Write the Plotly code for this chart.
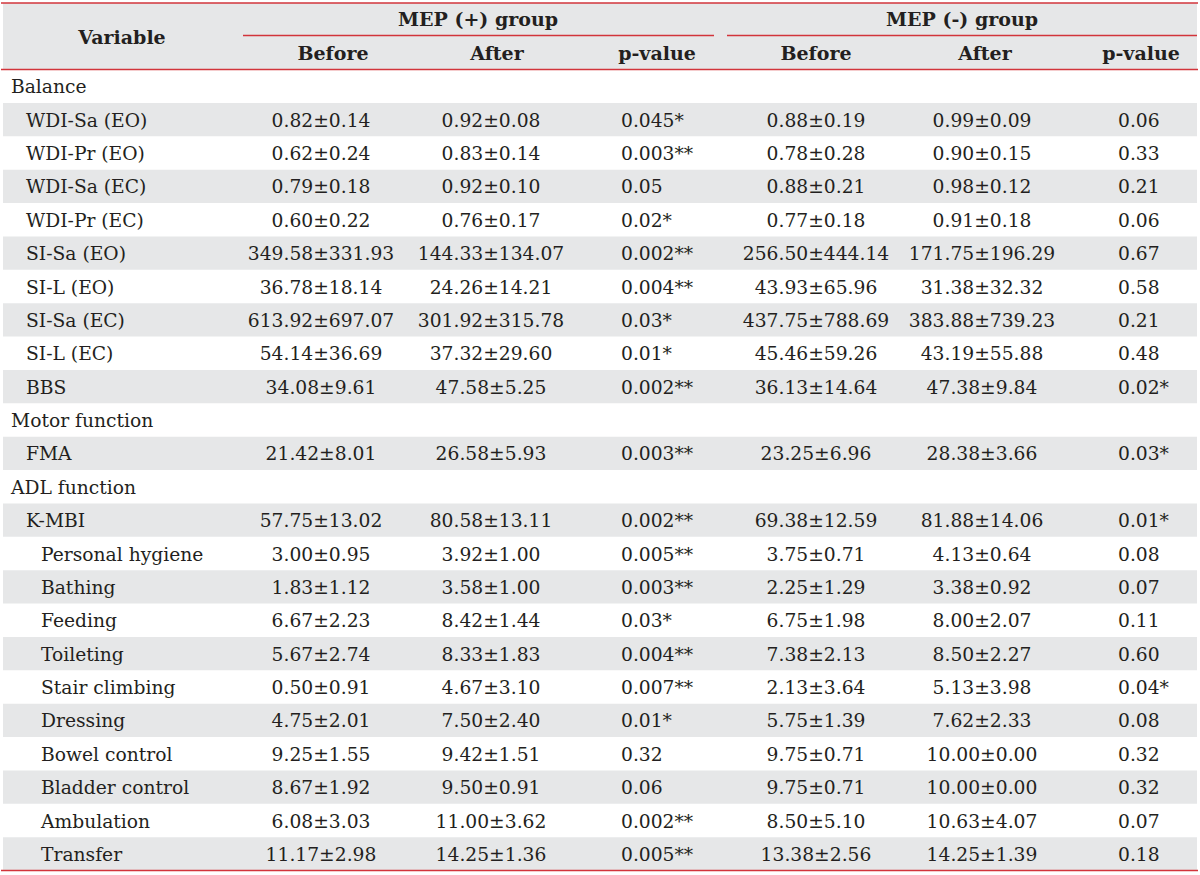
import plotly.graph_objects as go

# ---------------- data ----------------
variables = ["Balance", "WDI-Sa (EO)", "WDI-Pr (EO)", "WDI-Sa (EC)", "WDI-Pr (EC)",
             "SI-Sa (EO)", "SI-L (EO)", "SI-Sa (EC)", "SI-L (EC)", "BBS",
             "Motor function", "FMA",
             "ADL function", "K-MBI", "Personal hygiene", "Bathing", "Feeding",
             "Toileting", "Stair climbing", "Dressing", "Bowel control",
             "Bladder control", "Ambulation", "Transfer"]
indent_level = [0, 1, 1, 1, 1, 1, 1, 1, 1, 1, 0, 1, 0, 1, 2, 2, 2, 2, 2, 2, 2, 2, 2, 2]

pos_before_mean = [None, 0.82, 0.62, 0.79, 0.60, 349.58, 36.78, 613.92, 54.14, 34.08, None, 21.42,
                   None, 57.75, 3.00, 1.83, 6.67, 5.67, 0.50, 4.75, 9.25, 8.67, 6.08, 11.17]
pos_before_sd = [None, 0.14, 0.24, 0.18, 0.22, 331.93, 18.14, 697.07, 36.69, 9.61, None, 8.01,
                 None, 13.02, 0.95, 1.12, 2.23, 2.74, 0.91, 2.01, 1.55, 1.92, 3.03, 2.98]
pos_after_mean = [None, 0.92, 0.83, 0.92, 0.76, 144.33, 24.26, 301.92, 37.32, 47.58, None, 26.58,
                  None, 80.58, 3.92, 3.58, 8.42, 8.33, 4.67, 7.50, 9.42, 9.50, 11.00, 14.25]
pos_after_sd = [None, 0.08, 0.14, 0.10, 0.17, 134.07, 14.21, 315.78, 29.60, 5.25, None, 5.93,
                None, 13.11, 1.00, 1.00, 1.44, 1.83, 3.10, 2.40, 1.51, 0.91, 3.62, 1.36]
pos_p = ["", "0.045*", "0.003**", "0.05", "0.02*", "0.002**", "0.004**", "0.03*", "0.01*", "0.002**", "", "0.003**",
         "", "0.002**", "0.005**", "0.003**", "0.03*", "0.004**", "0.007**", "0.01*", "0.32", "0.06", "0.002**", "0.005**"]

neg_before_mean = [None, 0.88, 0.78, 0.88, 0.77, 256.50, 43.93, 437.75, 45.46, 36.13, None, 23.25,
                   None, 69.38, 3.75, 2.25, 6.75, 7.38, 2.13, 5.75, 9.75, 9.75, 8.50, 13.38]
neg_before_sd = [None, 0.19, 0.28, 0.21, 0.18, 444.14, 65.96, 788.69, 59.26, 14.64, None, 6.96,
                 None, 12.59, 0.71, 1.29, 1.98, 2.13, 3.64, 1.39, 0.71, 0.71, 5.10, 2.56]
neg_after_mean = [None, 0.99, 0.90, 0.98, 0.91, 171.75, 31.38, 383.88, 43.19, 47.38, None, 28.38,
                  None, 81.88, 4.13, 3.38, 8.00, 8.50, 5.13, 7.62, 10.00, 10.00, 10.63, 14.25]
neg_after_sd = [None, 0.09, 0.15, 0.12, 0.18, 196.29, 32.32, 739.23, 55.88, 9.84, None, 3.66,
                None, 14.06, 0.64, 0.92, 2.07, 2.27, 3.98, 2.33, 0.00, 0.00, 4.07, 1.39]
neg_p = ["", "0.06", "0.33", "0.21", "0.06", "0.67", "0.58", "0.21", "0.48", "0.02*", "", "0.03*",
         "", "0.01*", "0.08", "0.07", "0.11", "0.60", "0.04*", "0.08", "0.32", "0.32", "0.07", "0.18"]

group_labels = ["MEP (+) group", "MEP (-) group"]
sub_labels = ["Before", "After", "p-value", "Before", "After", "p-value"]
first_header = "Variable"

# ---------------- layout constants ----------------
W, H = 1200, 875
FONT = "DejaVu Serif"
TXT = "#231f20"
GRAY = "#e6e7e8"
RED = "#d2343b"
FS = 18.7
FSB = 19
DY = 2.5  # visual vertical nudge for text

TOP = 3
GROUP_LINE = 35.5
HEAD_BOTTOM = 69.5
BOTTOM = 870.5
LEFT, RIGHT = 3, 1197
n = len(variables)
row_h = (BOTTOM - HEAD_BOTTOM) / n
row_y = [HEAD_BOTTOM + (i + 0.5) * row_h + DY for i in range(n)]


def fmt(m, s):
    return "" if m is None else f"{m:.2f}±{s:.2f}"


fig = go.Figure()

# background shapes
shapes = [dict(type="rect", xref="x", yref="y", x0=LEFT, x1=RIGHT, y0=TOP, y1=HEAD_BOTTOM,
               fillcolor=GRAY, line_width=0, layer="below")]
for i in range(n):
    if i % 2 == 1:
        shapes.append(dict(type="rect", xref="x", yref="y", x0=LEFT, x1=RIGHT,
                           y0=HEAD_BOTTOM + i * row_h, y1=HEAD_BOTTOM + (i + 1) * row_h,
                           fillcolor=GRAY, line_width=0, layer="below"))
for y in (TOP, HEAD_BOTTOM, BOTTOM):
    shapes.append(dict(type="line", xref="x", yref="y", x0=1, x1=1198, y0=y, y1=y,
                       line=dict(color=RED, width=1.6)))
for x0, x1 in ((243, 714), (727, 1197)):
    shapes.append(dict(type="line", xref="x", yref="y", x0=x0, x1=x1, y0=GROUP_LINE, y1=GROUP_LINE,
                       line=dict(color=RED, width=1.6)))

# variable column
fig.add_trace(go.Scatter(
    x=[11 + 15 * lv for lv in indent_level], y=row_y, mode="text", text=variables,
    textposition="middle right", textfont=dict(family=FONT, size=FS, color=TXT),
    hoverinfo="skip", showlegend=False))

centered_cols = [
    (321, [fmt(m, s) for m, s in zip(pos_before_mean, pos_before_sd)]),
    (491, [fmt(m, s) for m, s in zip(pos_after_mean, pos_after_sd)]),
    (816, [fmt(m, s) for m, s in zip(neg_before_mean, neg_before_sd)]),
    (982, [fmt(m, s) for m, s in zip(neg_after_mean, neg_after_sd)]),
]
for cx, vals in centered_cols:
    fig.add_trace(go.Scatter(
        x=[cx] * n, y=row_y, mode="text", text=vals, textposition="middle center",
        textfont=dict(family=FONT, size=FS, color=TXT), hoverinfo="skip", showlegend=False))

for lx, vals in ((621, pos_p), (1118, neg_p)):
    fig.add_trace(go.Scatter(
        x=[lx] * n, y=row_y, mode="text", text=vals, textposition="middle right",
        textfont=dict(family=FONT, size=FS, color=TXT), hoverinfo="skip", showlegend=False))

# headers
bold = dict(family=FONT, size=FSB, color=TXT, weight="bold")
fig.add_trace(go.Scatter(x=[122], y=[(TOP + HEAD_BOTTOM) / 2 + DY], mode="text", text=[first_header],
                         textposition="middle center", textfont=bold, hoverinfo="skip", showlegend=False))
fig.add_trace(go.Scatter(x=[478, 962], y=[19 + DY, 19 + DY], mode="text", text=group_labels,
                         textposition="middle center", textfont=bold, hoverinfo="skip", showlegend=False))
fig.add_trace(go.Scatter(x=[333, 497, 657, 816, 985, 1141], y=[53 + DY] * 6, mode="text", text=sub_labels,
                         textposition="middle center", textfont=bold, hoverinfo="skip", showlegend=False))

fig.update_layout(
    width=W, height=H, margin=dict(l=0, r=0, t=0, b=0),
    paper_bgcolor="white", plot_bgcolor="white", shapes=shapes,
    xaxis=dict(range=[0, W], visible=False, fixedrange=True),
    yaxis=dict(range=[H, 0], visible=False, fixedrange=True),
    hovermode=False,
)

fig.write_html(
    "out.html",
    config={"displayModeBar": False, "staticPlot": True},
    post_script="document.body.style.margin='0';document.body.style.padding='0';"
                "document.body.style.overflow='hidden';",
)
